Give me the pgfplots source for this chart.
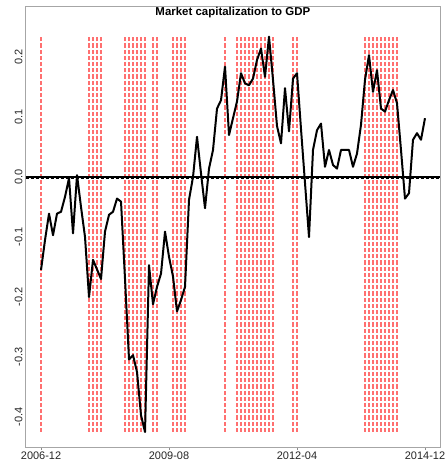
\documentclass[border=0pt]{standalone}
\usepackage{fontspec}
\setmainfont{Liberation Sans}
\usepackage{pgfplots}
\usepackage{pgfplotstable}
\pgfplotsset{compat=1.18}

% monthly series, index 0 = 2006-12, index 96 = 2014-12
\pgfplotstableread{
i v
0 -0.155
1 -0.105
2 -0.061
3 -0.097
4 -0.061
5 -0.058
6 -0.033
7 -0.002
8 -0.094
9 0.003
10 -0.050
11 -0.100
12 -0.200
13 -0.138
14 -0.154
15 -0.170
16 -0.091
17 -0.063
18 -0.058
19 -0.036
20 -0.041
21 -0.170
22 -0.304
23 -0.297
24 -0.325
25 -0.397
26 -0.425
27 -0.147
28 -0.212
29 -0.183
30 -0.161
31 -0.091
32 -0.133
33 -0.166
34 -0.224
35 -0.205
36 -0.183
37 -0.038
38 0.000
39 0.067
40 0.006
41 -0.052
42 0.014
43 0.045
44 0.114
45 0.128
46 0.184
47 0.070
48 0.098
49 0.126
50 0.173
51 0.156
52 0.153
53 0.164
54 0.195
55 0.214
56 0.167
57 0.234
58 0.162
59 0.085
60 0.056
61 0.148
62 0.076
63 0.164
64 0.173
65 0.080
66 -0.010
67 -0.100
68 0.045
69 0.078
70 0.089
71 0.017
72 0.045
73 0.020
74 0.014
75 0.045
76 0.045
77 0.045
78 0.017
79 0.039
80 0.087
81 0.162
82 0.203
83 0.142
84 0.178
85 0.114
86 0.109
87 0.128
88 0.145
89 0.123
90 0.045
91 -0.036
92 -0.027
93 0.062
94 0.073
95 0.062
96 0.098
}\capgdp

\definecolor{markred}{RGB}{255,112,112}

\begin{document}
\begin{tikzpicture}
\path[use as bounding box] (0,0) rectangle (446bp,463bp);
\begin{axis}[
  at={(25.7bp,16bp)}, anchor=south west,
  scale only axis, width=414.3bp, height=441bp,
  xmin=-3.83, xmax=99.75, ymin=-0.45, ymax=0.285,
  axis line style={draw=black!35, line width=0.8bp},
  xtick={0,32,64,96},
  xticklabels={2006-12,2009-08,2012-04,2014-12},
  ytick={-0.4,-0.3,-0.2,-0.1,0,0.1,0.2},
  yticklabels={-0.4,-0.3,-0.2,-0.1,0.0,0.1,0.2},
  xtick pos=lower, ytick pos=left,
  tick align=outside, major tick length=3bp,
  xtick style={draw=black!45, line width=0.8bp},
  ytick style={draw=none},
  /pgf/number format/assume math mode=true,
  ticklabel style={font=\fontsize{11}{13}\selectfont, text=black!85},
  xticklabel style={anchor=north, inner sep=0pt, yshift=-2bp},
  yticklabel style={rotate=90, anchor=south, inner sep=0pt},
  every axis title/.style={at={(0.5,1)}, anchor=north, inner sep=0pt,
    yshift=-1.3bp, font=\bfseries\fontsize{11.5}{13}\selectfont},
  title={Market capitalization to GDP},
]
% flagged months
\pgfplotsinvokeforeach{0,12,13,14,15,21,22,23,24,25,26,28,29,33,34,35,36,46,
  49,50,51,52,53,54,55,56,57,58,63,64,81,82,83,84,85,86,87,88,89}{
  \addplot[markred, line width=1.05bp, dash pattern=on 4.2bp off 2bp, forget plot]
    coordinates {(#1,-0.425) (#1,0.234)};
}
% zero line and sample mean
\addplot[draw=black, line width=1.5bp, forget plot] coordinates {(-3.83,0) (99.75,0)};
\addplot[draw=black, line width=1bp, dash pattern=on 3bp off 2bp, forget plot]
  coordinates {(-3.83,-0.003) (99.75,-0.003)};
% series
\addplot[draw=black, line width=2bp, line join=round, no markers] table[x=i, y=v] {\capgdp};
\end{axis}
\end{tikzpicture}
\end{document}
